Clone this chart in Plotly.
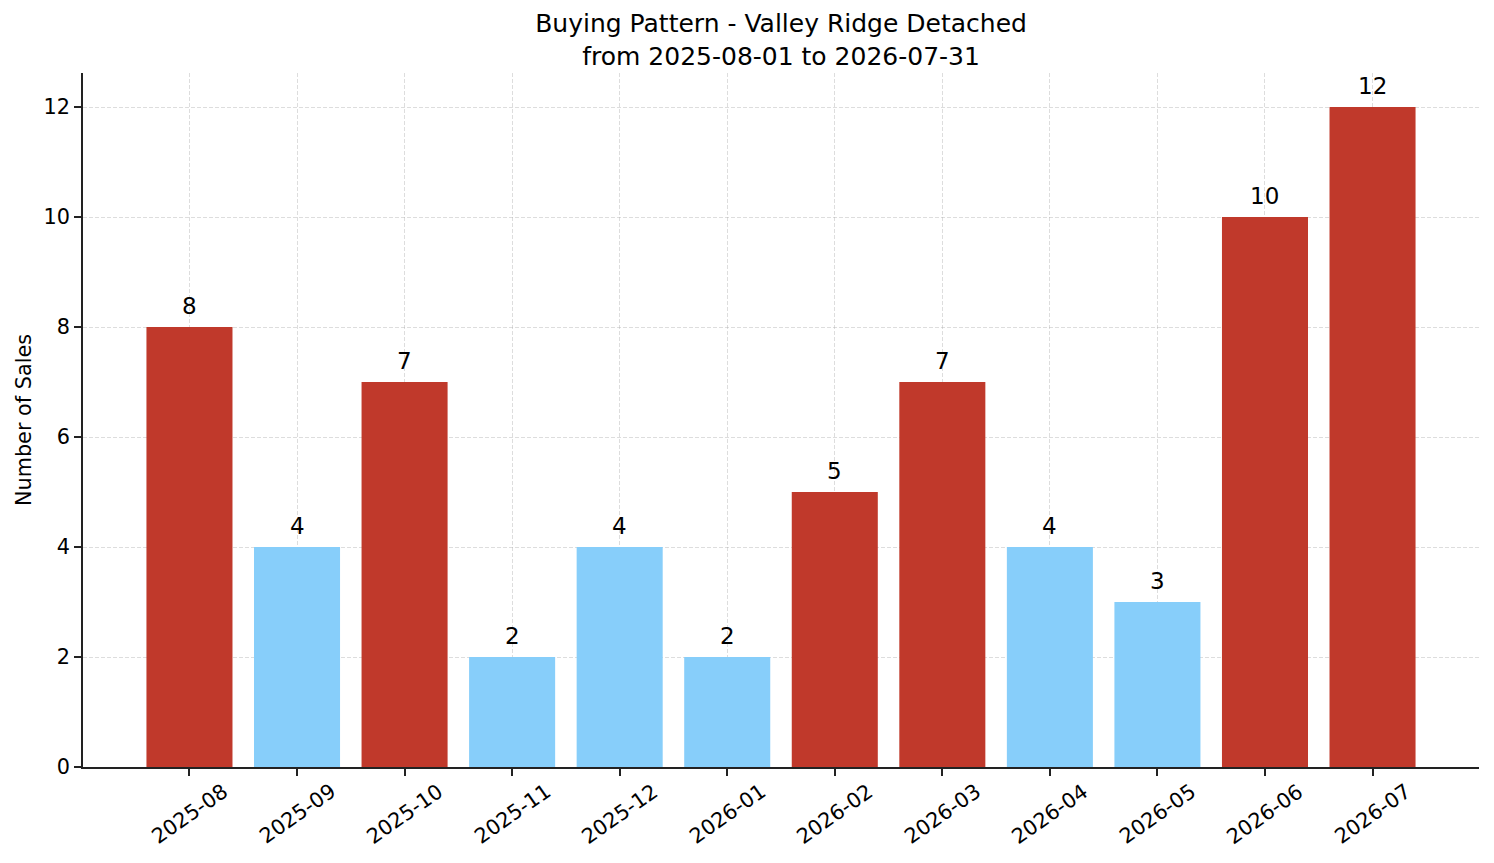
import numpy as np
import plotly.graph_objects as go

MONTHS = ["2025-08", "2025-09", "2025-10", "2025-11", "2025-12", "2026-01",
          "2026-02", "2026-03", "2026-04", "2026-05", "2026-06", "2026-07"]
SALES = [8, 4, 7, 2, 4, 2, 5, 7, 4, 3, 10, 12]
TITLE = "Buying Pattern - Valley Ridge Detached<br>from 2025-08-01 to 2026-07-31"

HIGH_COLOR = "#c0392b"
LOW_COLOR = "#87cefa"
FONT = "DejaVu Sans"
AXIS = "#222222"


def main():
    median = np.median(SALES)
    colors = [HIGH_COLOR if v > median else LOW_COLOR for v in SALES]
    xs = list(range(len(MONTHS)))

    fig = go.Figure(go.Bar(
        x=xs, y=SALES, width=0.8, marker_color=colors, marker_line_width=0,
    ))

    # value labels above the bars
    for x, v in zip(xs, SALES):
        fig.add_annotation(x=x, y=v, xref="x", yref="y", text=str(v),
                           showarrow=False, xanchor="center", yanchor="bottom",
                           yshift=6, font=dict(family=FONT, size=23, color="black"))

    # centred, rotated month labels like matplotlib
    for x, m in zip(xs, MONTHS):
        fig.add_annotation(x=x, y=0, xref="x", yref="paper", text=m,
                           textangle=-35, showarrow=False, xanchor="center",
                           yanchor="top", yshift=-9,
                           font=dict(family=FONT, size=20.8, color="black"))

    grid = dict(showgrid=True, gridcolor="rgba(170,170,170,0.4)", griddash="4px,2px",
                gridwidth=1, layer="above traces")
    fig.update_xaxes(range=[-0.99, 11.99], tickvals=xs, ticktext=[""] * len(xs),
                     ticks="outside", ticklen=7, tickwidth=1.6, tickcolor=AXIS,
                     showline=True, linecolor=AXIS, linewidth=1.7, zeroline=False,
                     **grid)
    fig.update_yaxes(range=[0, 12.62], tickvals=list(range(0, 13, 2)),
                     ticks="outside", ticklen=7, tickwidth=1.6, tickcolor=AXIS,
                     showline=True, linecolor=AXIS, linewidth=1.7, zeroline=False,
                     tickfont=dict(family=FONT, size=20.8, color="black"),
                     title=dict(text="Number of Sales", standoff=6,
                                font=dict(family=FONT, size=20.8, color="black")),
                     **grid)
    fig.update_layout(
        width=1494, height=863, plot_bgcolor="white", paper_bgcolor="white",
        margin=dict(l=83, r=15, t=73, b=96), showlegend=False,
        title=dict(text=TITLE, x=0.5228, xanchor="center", yref="container",
                   y=1 - 32 / 863, yanchor="middle",
                   font=dict(family=FONT, size=25, color="black")),
        font=dict(family=FONT),
    )
    fig.write_html("out.html", config={"displayModeBar": False},
                   post_script="document.body.style.margin='0';")


if __name__ == "__main__":
    main()
